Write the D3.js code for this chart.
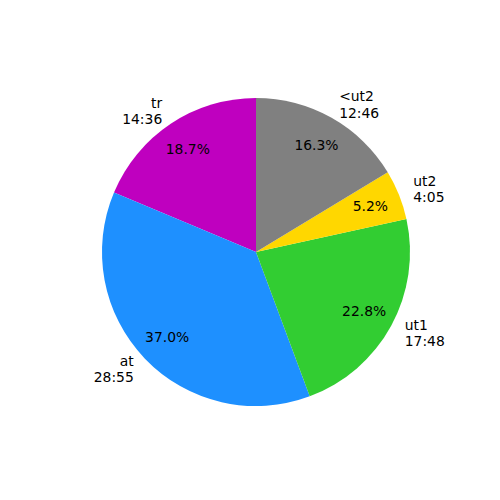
<!DOCTYPE html>
<html><head><meta charset="utf-8">
<script src="https://cdn.jsdelivr.net/npm/d3@7"></script>
<style>body{margin:0;background:#fff}</style>
</head><body>
<svg id="c" width="500" height="500"></svg>
<script>
const categories = ["tr", "at", "ut1", "ut2", "<ut2"];
const timeLabels = ["14:36", "28:55", "17:48", "4:05", "12:46"];
const seconds = [876, 1735, 1068, 245, 766];
const colors = ["#bf00bf", "#1e90ff", "#32cd32", "#ffd700", "#808080"];

const svg = d3.select("#c");
const cx = 256, cy = 252, R = 154;
const fs = 13.9;
const total = d3.sum(seconds);
const data = categories.map((c, i) => ({cat: c, t: timeLabels[i], v: seconds[i], col: colors[i]}));
const pie = d3.pie().value(d => d.v).sort(null).startAngle(0).endAngle(-2 * Math.PI);
const arcs = pie(data);
const arc = d3.arc().innerRadius(0).outerRadius(R);
const g = svg.append("g").attr("transform", `translate(${cx},${cy})`);
g.selectAll("path").data(arcs).join("path").attr("d", arc).attr("fill", d => d.data.col);

arcs.forEach(a => {
  const m = (a.startAngle + a.endAngle) / 2;
  const sx = Math.sin(m), sy = -Math.cos(m);
  g.append("text").attr("x", 0.8 * R * sx).attr("y", 0.8 * R * sy)
    .attr("text-anchor", "middle").attr("dominant-baseline", "central")
    .attr("font-family", "DejaVu Sans").attr("font-size", fs)
    .text((a.data.v / total * 100).toFixed(1) + "%");
  const lx = 1.1 * R * sx, ly = 1.1 * R * sy;
  const anchor = sx < 0 ? "end" : "start";
  const t = g.append("text").attr("text-anchor", anchor)
    .attr("font-family", "DejaVu Sans").attr("font-size", fs);
  const lh = fs * 1.17;
  [a.data.cat, a.data.t].forEach((s, k) => {
    t.append("tspan").attr("x", lx).attr("y", ly + (k - 0.5) * lh)
      .attr("dominant-baseline", "central").text(s);
  });
});
</script>
</body></html>
